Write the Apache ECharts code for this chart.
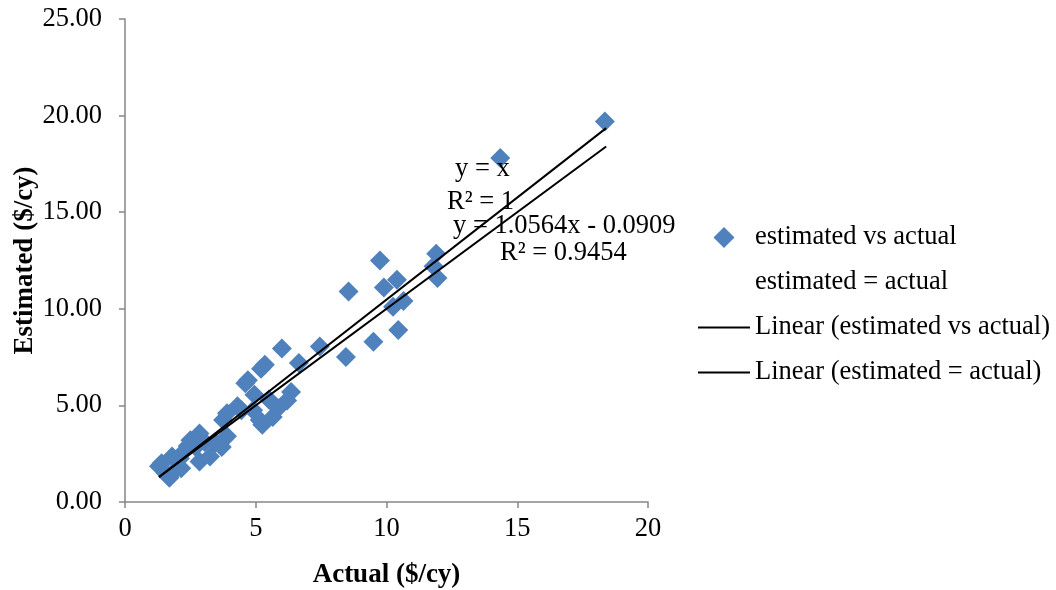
<!DOCTYPE html>
<html>
<head>
<meta charset="utf-8">
<script src="https://cdn.jsdelivr.net/npm/echarts@6/dist/echarts.min.js"></script>
<style>
html, body { margin: 0; padding: 0; background: #fff; }
#chart { width: 1056px; height: 590px; }
</style>
</head>
<body>
<div id="chart"></div>
<script>
// actual ($/cy) vs estimated ($/cy)
var actual = [18.35, 14.35, 11.9, 11.8, 11.95, 9.75, 10.4, 9.9, 10.25, 10.65,
    10.45, 9.5, 8.55, 8.45, 7.45, 6.0, 6.65, 5.35, 5.2, 4.6,
    4.7, 4.95, 6.35, 6.2, 4.3, 3.75, 4.9, 5.15, 5.65, 5.85,
    5.25, 2.5, 2.85, 3.05, 3.45, 3.9, 3.7, 3.25, 2.85, 2.25,
    2.1, 1.8, 1.4, 1.3, 1.85, 1.7, 1.55, 2.15, 2.7, 5.5,
    4.45, 3.9, 2.4];
var estimated = [19.7, 17.8, 12.85, 12.2, 11.6, 12.5, 11.5, 11.1, 10.1, 10.4,
    8.9, 8.3, 10.9, 7.5, 8.05, 7.95, 7.2, 7.1, 6.9, 6.15,
    6.3, 5.55, 5.7, 5.25, 4.95, 4.25, 4.75, 4.25, 4.4, 4.85,
    4.0, 3.2, 3.55, 3.1, 3.05, 3.4, 2.85, 2.35, 2.1, 2.6,
    2.25, 2.35, 2.0, 1.85, 1.55, 1.25, 1.5, 1.75, 2.85, 5.3,
    4.75, 4.6, 2.9];

// trendline end points
var fitLine = [[1.3, 1.28], [18.4, 19.35]];
var identityLine = [[1.3, 1.3], [18.4, 18.4]];

var points = actual.map(function (a, i) { return [a, estimated[i]]; });

var serif = '"Liberation Serif", "Times New Roman", serif';
var axisGrey = '#868686';
var fs = 26.5;
var lineIcon = 'path://M0,0 L52,0 L52,2 L0,2 Z';
var diamondIcon = 'path://M8,0 L16,8 L8,16 L0,8 Z';

var chart = echarts.init(document.getElementById('chart'));
chart.setOption({
    animation: false,
    textStyle: { fontFamily: serif },
    grid: { left: 125, right: 408, top: 19, bottom: 88, outerBoundsMode: 'none' },
    xAxis: {
        type: 'value',
        min: 0, max: 20, interval: 5,
        name: 'Actual ($/cy)',
        nameLocation: 'middle',
        nameGap: 60,
        nameTextStyle: { fontFamily: serif, fontSize: 27, fontWeight: 'bold', color: '#000' },
        axisLine: { lineStyle: { color: axisGrey, width: 1.5 } },
        axisTick: { length: 6, lineStyle: { color: axisGrey, width: 1.5 } },
        axisLabel: { fontFamily: serif, fontSize: fs, color: '#000', margin: 14 },
        splitLine: { show: false }
    },
    yAxis: {
        type: 'value',
        min: 0, max: 25, interval: 5,
        name: 'Estimated ($/cy)',
        nameLocation: 'middle',
        nameGap: 86,
        nameTextStyle: { fontFamily: serif, fontSize: 27, fontWeight: 'bold', color: '#000' },
        axisLine: { show: true, lineStyle: { color: axisGrey, width: 1.5 } },
        axisTick: { show: true, length: 6, lineStyle: { color: axisGrey, width: 1.5 } },
        axisLabel: {
            fontFamily: serif, fontSize: fs, color: '#000', margin: 23,
            formatter: function (v) { return v.toFixed(2); }
        },
        splitLine: { show: false }
    },
    legend: {
        orient: 'vertical',
        left: 693,
        top: 219,
        itemWidth: 52,
        itemHeight: 21,
        itemGap: 18,
        textStyle: { fontFamily: serif, fontSize: fs, color: '#000', lineHeight: 27 },
        data: [
            { name: 'estimated vs actual', icon: diamondIcon, itemStyle: { color: '#4F81BD' } },
            { name: 'estimated = actual', icon: 'rect', itemStyle: { color: 'transparent' } },
            { name: 'Linear (estimated vs actual)', icon: lineIcon, itemStyle: { color: '#000' } },
            { name: 'Linear (estimated = actual)', icon: lineIcon, itemStyle: { color: '#000' } }
        ]
    },
    series: [{
        name: 'estimated vs actual',
        type: 'scatter',
        symbol: 'diamond',
        symbolSize: 20,
        itemStyle: { color: '#4F81BD', opacity: 1 },
        data: points,
        z: 2
    }, {
        name: 'estimated = actual',
        type: 'scatter',
        symbolSize: 0,
        itemStyle: { color: 'transparent' },
        data: identityLine,
        z: 1
    }, {
        name: 'Linear (estimated vs actual)',
        type: 'line',
        symbol: 'none',
        lineStyle: { color: '#000', width: 2 },
        itemStyle: { color: '#000' },
        data: fitLine,
        z: 3
    }, {
        name: 'Linear (estimated = actual)',
        type: 'line',
        symbol: 'none',
        lineStyle: { color: '#000', width: 2 },
        itemStyle: { color: '#000' },
        data: identityLine,
        z: 3
    }],
    graphic: [
        { type: 'text', left: 455, top: 156, z: 10, style: { text: 'y = x', font: fs + 'px ' + serif, fill: '#000' } },
        { type: 'text', left: 447, top: 189, z: 10, style: { text: 'R² = 1', font: fs + 'px ' + serif, fill: '#000' } },
        { type: 'text', left: 453, top: 213, z: 10, style: { text: 'y = 1.0564x - 0.0909', font: fs + 'px ' + serif, fill: '#000' } },
        { type: 'text', left: 500, top: 240, z: 10, style: { text: 'R² = 0.9454', font: fs + 'px ' + serif, fill: '#000' } }
    ]
});
</script>
</body>
</html>
